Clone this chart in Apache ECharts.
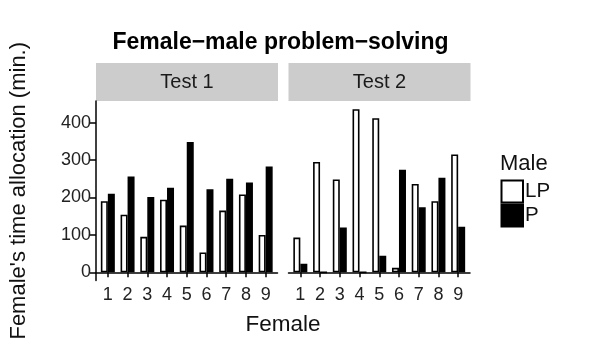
<!DOCTYPE html>
<html>
<head>
<meta charset="utf-8">
<script src="https://cdn.jsdelivr.net/npm/echarts@6/dist/echarts.min.js"></script>
<style>html,body{margin:0;padding:0;background:#fff}#c{width:600px;height:356px}</style>
</head>
<body>
<div id="c"></div>
<script>
const females = [1, 2, 3, 4, 5, 6, 7, 8, 9];
const femaleLabels = ['1', '2', '3', '4', '5', '6', '7', '8', '9'];
const panels = ['Test 1', 'Test 2'];
const lpTest1 = [190, 154, 95, 194, 125, 53, 165, 208, 100];
const pTest1 = [210, 256, 201, 226, 348, 222, 250, 240, 283];
const lpTest2 = [93, 295, 248, 436, 412, 12, 236, 190, 315];
const pTest2 = [23, 0, 120, 0, 44, 274, 174, 253, 122];
const yTicks = [0, 100, 200, 300, 400];

const FONT = 'Liberation Sans, Arial, sans-serif';
const maxVal = Math.max(...lpTest1, ...pTest1, ...lpTest2, ...pTest2);
const yMin = -0.05 * maxVal, yMax = 1.05 * maxVal;
const xMin = 1 - 0.6, xMax = females.length + 0.6;

const chart = echarts.init(document.getElementById('c'), null, {renderer: 'canvas'});
const grids = [
  {left: 96, top: 101, width: 181.5, height: 179.5},
  {left: 288.5, top: 101, width: 181.5, height: 179.5}
];
function xAx(i) {
  return {
    type: 'value', gridIndex: i, min: xMin, max: xMax,
    axisLine: {show: true, lineStyle: {color: '#000', width: 1.5}},
    axisTick: {show: true, length: 5, lineStyle: {color: '#000', width: 1.5}, customValues: females},
    axisLabel: {show: true, customValues: females, formatter: v => femaleLabels[females.indexOf(v)] || '',
      color: '#222', fontSize: 18, fontFamily: FONT, margin: 6},
    splitLine: {show: false}
  };
}
function yAx(i) {
  return {
    type: 'value', gridIndex: i, min: yMin, max: yMax,
    axisLine: {show: i === 0, lineStyle: {color: '#000', width: 1.5}},
    axisTick: {show: i === 0, length: 6, lineStyle: {color: '#000', width: 1.5}, customValues: yTicks},
    axisLabel: {show: i === 0, customValues: yTicks, color: '#222', fontSize: 18, fontFamily: FONT, margin: 5},
    splitLine: {show: false},
    name: i === 0 ? "Female's time allocation (min.)" : '',
    nameLocation: 'middle', nameRotate: 90, nameGap: 66,
    nameTextStyle: {fontSize: 22, fontFamily: FONT, color: '#111'}
  };
}
function ser(name, vals, gi, color) {
  return {
    name: name, type: 'bar', xAxisIndex: gi, yAxisIndex: gi,
    data: vals.map((v, k) => [females[k], v]),
    barWidth: 7, barGap: '0%',
    itemStyle: {color: color, borderColor: '#000', borderWidth: 1.6},
    emphasis: {disabled: true}
  };
}
const option = {
  animation: false,
  backgroundColor: '#fff',
  title: {text: 'Female\u2212male problem\u2212solving', left: 280.5, top: 31, textAlign: 'center', padding: 0,
    textStyle: {fontSize: 23, fontWeight: 'bold', fontFamily: FONT, color: '#000'}},
  grid: grids,
  xAxis: [xAx(0), xAx(1)],
  yAxis: [yAx(0), yAx(1)],
  legend: {
    data: ['LP', 'P'], orient: 'vertical', left: 500.5, top: 179.5, itemGap: 0, padding: 0,
    itemWidth: 21.5, itemHeight: 22, icon: 'rect',
    textStyle: {fontSize: 20.5, fontFamily: FONT, color: '#111', padding: [0, 0, 0, -3], lineHeight: 22}
  },
  series: [
    ser('LP', lpTest1, 0, '#fff'), ser('P', pTest1, 0, '#000'),
    ser('LP', lpTest2, 1, '#fff'), ser('P', pTest2, 1, '#000')
  ],
  graphic: [
    {type: 'rect', shape: {x: 96, y: 63, width: 182, height: 38}, style: {fill: '#cccccc'}},
    {type: 'rect', shape: {x: 288.5, y: 63, width: 182, height: 38}, style: {fill: '#cccccc'}},
    {type: 'text', x: 96 + 182 / 2, y: 82, style: {text: panels[0], fontSize: 20, fontFamily: FONT, fill: '#1a1a1a', textAlign: 'center', textVerticalAlign: 'middle'}},
    {type: 'text', x: 288.5 + 182 / 2, y: 82, style: {text: panels[1], fontSize: 20, fontFamily: FONT, fill: '#1a1a1a', textAlign: 'center', textVerticalAlign: 'middle'}},
    {type: 'text', x: 283, y: 325, style: {text: 'Female', fontSize: 22.5, fontFamily: FONT, fill: '#111', textAlign: 'center', textVerticalAlign: 'middle'}},
    {type: 'text', x: 500, y: 164, style: {text: 'Male', fontSize: 22, fontFamily: FONT, fill: '#111', textAlign: 'left', textVerticalAlign: 'middle'}}
  ]
};
chart.setOption(option);
</script>
</body>
</html>
